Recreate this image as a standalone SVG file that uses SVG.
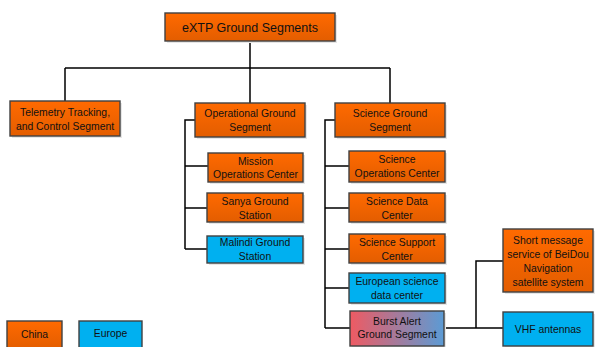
<svg xmlns="http://www.w3.org/2000/svg" width="595" height="347" viewBox="0 0 595 347">
<style>
.box{stroke:#404040;stroke-width:1.4}
.cn{fill:url(#orange)}
.eu{fill:#00B0F0}
.sh{fill:#e6e6e6}
text{font-family:"Liberation Sans",Arial,sans-serif;font-size:10.4px;fill:#111;text-anchor:middle}
.t{font-size:12.5px}
.ln{fill:none;stroke:#000;stroke-width:1.5}
</style>
<defs>
<linearGradient id="orange" x1="0" y1="0" x2="0" y2="1">
<stop offset="0" stop-color="#FF6A00"/>
<stop offset="1" stop-color="#E35D00"/>
</linearGradient>
<linearGradient id="burst" x1="0" y1="0" x2="1" y2="0">
<stop offset="0" stop-color="#EF5A62"/>
<stop offset="1" stop-color="#5B9BD5"/>
</linearGradient>
</defs>
<g id="connectors" class="ln">
<path d="M250 41V68M65 68H390M65 68V101M250 68V103M390 68V103"/>
<path d="M195 120H185V249M185 166H208M185 208H207M185 249H207"/>
<path d="M335 120H325V328M325 166H349M325 208H349M325 249H349M325 288H349M325 328H350"/>
<path d="M444 328H476V261H503M476 328H503"/>
</g>
<g id="root"><rect class="sh" x="167" y="15" width="170" height="28"/><rect class="box cn" x="165" y="13" width="170" height="28"/><text class="t" x="250" y="31.5">eXTP Ground Segments</text></g>
<g id="ttc"><rect class="sh" x="12" y="103" width="110" height="35"/><rect class="box cn" x="10" y="101" width="110" height="35"/><text x="65" y="115.5">Telemetry Tracking,</text><text x="65" y="129.5">and Control Segment</text></g>
<g id="ogs"><rect class="sh" x="197" y="105" width="110" height="34"/><rect class="box cn" x="195" y="103" width="110" height="34"/><text x="250" y="117">Operational Ground</text><text x="250" y="131">Segment</text></g>
<g id="sgs"><rect class="sh" x="337" y="105" width="110" height="34"/><rect class="box cn" x="335" y="103" width="110" height="34"/><text x="390" y="117">Science Ground</text><text x="390" y="131">Segment</text></g>
<g id="moc"><rect class="sh" x="210" y="155" width="95" height="29"/><rect class="box cn" x="208" y="153" width="95" height="29"/><text x="255.5" y="164.5">Mission</text><text x="255.5" y="178">Operations Center</text></g>
<g id="sanya"><rect class="sh" x="209" y="195" width="96" height="29"/><rect class="box cn" x="207" y="193" width="96" height="29"/><text x="255" y="204.5">Sanya Ground</text><text x="255" y="218.5">Station</text></g>
<g id="malindi"><rect class="sh" x="209" y="238" width="96" height="27"/><rect class="box eu" x="207" y="236" width="96" height="27"/><text x="255" y="246">Malindi Ground</text><text x="255" y="260">Station</text></g>
<g id="soc"><rect class="sh" x="351" y="153" width="96" height="31"/><rect class="box cn" x="349" y="151" width="96" height="31"/><text x="397" y="163">Science</text><text x="397" y="177">Operations Center</text></g>
<g id="sdc"><rect class="sh" x="351" y="195" width="96" height="29"/><rect class="box cn" x="349" y="193" width="96" height="29"/><text x="397" y="204.5">Science Data</text><text x="397" y="218.5">Center</text></g>
<g id="ssc"><rect class="sh" x="351" y="236" width="96" height="29"/><rect class="box cn" x="349" y="234" width="96" height="29"/><text x="397" y="245.5">Science Support</text><text x="397" y="259.5">Center</text></g>
<g id="esdc"><rect class="sh" x="351" y="275" width="96" height="30"/><rect class="box eu" x="349" y="273" width="96" height="30"/><text x="397" y="285">European science</text><text x="397" y="299">data center</text></g>
<g id="burst"><rect class="sh" x="352" y="313" width="94" height="35"/><rect class="box" fill="url(#burst)" x="350" y="311" width="94" height="35"/><text x="397" y="325">Burst Alert</text><text x="397" y="338">Ground Segment</text></g>
<g id="beidou"><rect class="sh" x="505" y="231" width="90" height="63"/><rect class="box cn" x="503" y="229" width="90" height="63"/><text x="548" y="244">Short message</text><text x="548" y="258">service of BeiDou</text><text x="548" y="272">Navigation</text><text x="548" y="286">satellite system</text></g>
<g id="vhf"><rect class="sh" x="505" y="314" width="90" height="34"/><rect class="box eu" x="503" y="312" width="90" height="34"/><text x="548" y="332.5">VHF antennas</text></g>
<g id="legend-china"><rect class="box cn" x="7" y="321" width="55" height="28"/><text x="34.5" y="337.5">China</text></g>
<g id="legend-europe"><rect class="box eu" x="79" y="321" width="63" height="28"/><text x="110.5" y="337">Europe</text></g>
</svg>
